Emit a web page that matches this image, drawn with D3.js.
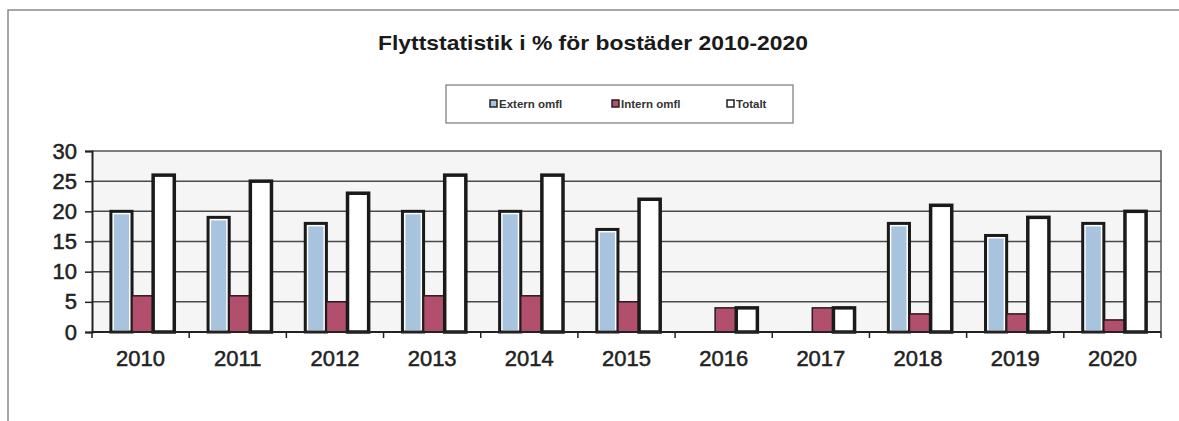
<!DOCTYPE html>
<html>
<head>
<meta charset="utf-8">
<script src="https://cdn.jsdelivr.net/npm/d3@7"></script>
<style>
  body { margin: 0; background: #fff; }
  svg { display: block; font-family: "Liberation Sans", Arial, sans-serif; }
</style>
</head>
<body>
<svg width="1179" height="421"></svg>
<script>
// chart data
const years = ['2010', '2011', '2012', '2013', '2014', '2015', '2016', '2017', '2018', '2019', '2020'];
const series = ['Extern omfl', 'Intern omfl', 'Totalt'];
const externValues = [20, 19, 18, 20, 20, 17, 0, 0, 18, 16, 18];
const internValues = [6, 6, 5, 6, 6, 5, 4, 4, 3, 3, 2];
const totaltValues = [26, 25, 23, 26, 26, 22, 4, 4, 21, 19, 20];
const yTicks = [0, 5, 10, 15, 20, 25, 30];

const colors = { 'Extern omfl': '#a8c3de', 'Intern omfl': '#b24f6c', 'Totalt': '#ffffff' };
const valuesBySeries = { 'Extern omfl': externValues, 'Intern omfl': internValues, 'Totalt': totaltValues };

let svg = d3.select('svg');

let plot = { left: 92, right: 1161, top: 151, bottom: 332 };

// outer frame of the scanned page
svg.append('path')
  .attr('d', 'M8,421 L8,10 L1179,10')
  .attr('fill', 'none')
  .attr('stroke', '#8a8a8a')
  .attr('stroke-width', 1.5);

// title
svg.append('text')
  .attr('x', 593)
  .attr('y', 50)
  .attr('text-anchor', 'middle')
  .attr('textLength', 430)
  .attr('lengthAdjust', 'spacingAndGlyphs')
  .style('font-size', '21px')
  .style('font-weight', 'bold')
  .style('fill', '#1a1a1a')
  .text('Flyttstatistik i % för bostäder 2010-2020');

let x0 = d3.scaleBand()
  .domain(years)
  .range([plot.left, plot.right]);

let x1 = d3.scaleBand()
  .domain(series)
  .range([2, x0.bandwidth() + 2])
  .paddingOuter(0.8);

let y = d3.scaleLinear()
  .domain([0, 30])
  .range([plot.bottom, plot.top]);

// plot background
svg.append('rect')
  .attr('x', plot.left)
  .attr('y', plot.top)
  .attr('width', plot.right - plot.left)
  .attr('height', plot.bottom - plot.top)
  .attr('fill', '#f5f5f5');

// grid lines
svg.append('g')
  .selectAll('line')
  .data(yTicks.filter(d => d > 0 && d < 30))
  .enter().append('line')
  .attr('x1', plot.left)
  .attr('x2', plot.right)
  .attr('y1', d => y(d))
  .attr('y2', d => y(d))
  .attr('stroke', '#4a4a4a')
  .attr('stroke-width', 1.5);

// top and right border of plot area
svg.append('path')
  .attr('d', `M${plot.left},${plot.top} L${plot.right},${plot.top} L${plot.right},${plot.bottom}`)
  .attr('fill', 'none')
  .attr('stroke', '#555')
  .attr('stroke-width', 1.5);

// bars
let groups = svg.append('g')
  .selectAll('g')
  .data(years)
  .enter().append('g')
  .attr('transform', d => `translate(${x0(d)},0)`);

groups.selectAll('g.bar')
  .data((d, i) => series.map(s => ({ s: s, v: valuesBySeries[s][i] })).filter(b => b.v > 0))
  .enter().append('g')
  .attr('class', 'bar')
  .each(function (d) {
    let g = d3.select(this);
    let bx = x1(d.s);
    let bw = x1.bandwidth();
    let top = y(d.v);
    let h = y(0) - top;
    if (d.s === 'Extern omfl') {
      g.append('rect')
        .attr('x', bx).attr('y', top).attr('width', bw).attr('height', h)
        .attr('fill', '#fff').attr('stroke', '#1a1a1a').attr('stroke-width', 3);
      g.append('rect')
        .attr('x', bx + 3).attr('y', top + 3).attr('width', bw - 6).attr('height', Math.max(0, h - 5))
        .attr('fill', colors[d.s]);
    } else if (d.s === 'Intern omfl') {
      g.append('rect')
        .attr('x', bx).attr('y', top).attr('width', bw).attr('height', h)
        .attr('fill', colors[d.s]).attr('stroke', '#2a1a1f').attr('stroke-width', 1.5);
    } else {
      g.append('rect')
        .attr('x', bx).attr('y', top).attr('width', bw).attr('height', h)
        .attr('fill', colors[d.s]).attr('stroke', '#1a1a1a').attr('stroke-width', 3.5);
    }
  });

// x axis
let xAxis = svg.append('g')
  .attr('transform', `translate(0,${plot.bottom})`);
xAxis.append('line')
  .attr('x1', plot.left).attr('x2', plot.right)
  .attr('stroke', '#222').attr('stroke-width', 2);
xAxis.selectAll('line.tick')
  .data(years.concat(['end']))
  .enter().append('line')
  .attr('class', 'tick')
  .attr('x1', d => d === 'end' ? plot.right : x0(d))
  .attr('x2', d => d === 'end' ? plot.right : x0(d))
  .attr('y1', 0).attr('y2', 6)
  .attr('stroke', '#222').attr('stroke-width', 1.5);
xAxis.selectAll('text')
  .data(years)
  .enter().append('text')
  .attr('x', d => x0(d) + x0.bandwidth() / 2)
  .attr('y', 34)
  .attr('text-anchor', 'middle')
  .style('font-size', '22px')
  .style('fill', '#222')
  .style('stroke', '#222')
  .style('stroke-width', 0.5)
  .text(d => d);

// y axis
let yAxis = svg.append('g')
  .attr('transform', `translate(${plot.left},0)`)
  .call(d3.axisLeft(y).tickValues(yTicks).tickSize(7).tickPadding(8));
yAxis.select('.domain').attr('stroke', '#222').attr('stroke-width', 2);
yAxis.selectAll('.tick line').attr('stroke', '#222').attr('stroke-width', 1.5);
yAxis.selectAll('.tick text')
  .style('font-size', '22px')
  .style('font-family', '"Liberation Sans", Arial, sans-serif')
  .style('stroke', '#222')
  .style('stroke-width', 0.5)
  .attr('fill', '#222');

// legend
let legend = svg.append('g');
legend.append('rect')
  .attr('x', 446).attr('y', 85).attr('width', 347).attr('height', 38)
  .attr('fill', '#fff').attr('stroke', '#777').attr('stroke-width', 1.2);
let legendX = [490, 612, 727];
let item = legend.selectAll('g.item')
  .data(series)
  .enter().append('g')
  .attr('class', 'item')
  .attr('transform', (d, i) => `translate(${legendX[i]},104)`);
item.append('rect')
  .attr('x', 0).attr('y', -4).attr('width', 7).attr('height', 7)
  .attr('fill', d => colors[d])
  .attr('stroke', '#222').attr('stroke-width', 1.5);
item.append('text')
  .attr('x', 9)
  .attr('y', 4)
  .style('font-size', '11.5px')
  .style('font-weight', 'bold')
  .style('fill', '#333')
  .text(d => d);
</script>
</body>
</html>
